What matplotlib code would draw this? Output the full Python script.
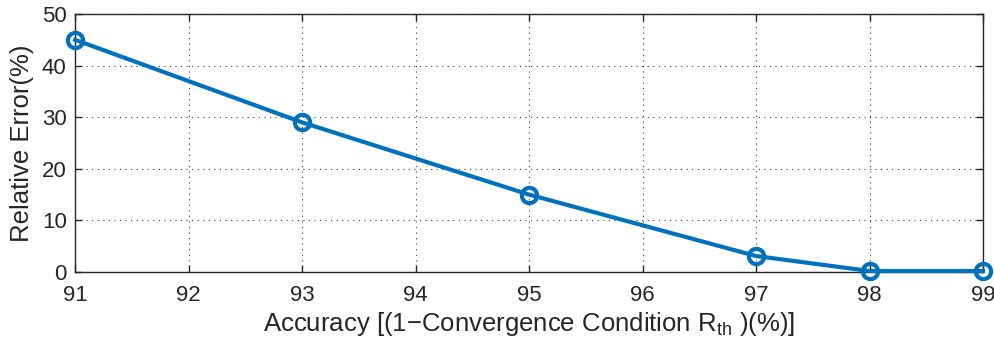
import matplotlib
matplotlib.use("Agg")
import matplotlib.pyplot as plt

plt.rcParams['font.family'] = ['Liberation Sans', 'DejaVu Sans']
plt.rcParams['mathtext.fontset'] = 'custom'
plt.rcParams['mathtext.rm'] = 'Liberation Sans'
plt.rcParams['mathtext.it'] = 'Liberation Sans'

accuracy = [91, 93, 95, 97, 98, 99]
rel_error = [45, 29, 15, 3.1, 0.2, 0.2]
xticks = [91, 92, 93, 94, 95, 96, 97, 98, 99]
yticks = [0, 10, 20, 30, 40, 50]

fig = plt.figure(figsize=(9.94, 3.41), dpi=100)
ax = fig.add_axes([0.0755, 0.2023, 0.9135, 0.7567])
ax.plot(accuracy, rel_error, color='#0072BD', lw=3, marker='o', ms=11,
        mfc='none', mec='#0072BD', mew=3, clip_on=False, zorder=5)
ax.set_xlim(91, 99)
ax.set_ylim(0, 50)
ax.set_xticks(xticks)
ax.set_yticks(yticks)
ax.tick_params(direction='in', labelsize=16, length=5, width=1, top=True, right=True, colors='#262626')
ax.tick_params(axis='x', pad=9)
ax.tick_params(axis='y', pad=6)
for lbl in ax.get_xticklabels() + ax.get_yticklabels():
    lbl.set_color('#262626')
ax.grid(True, linestyle=(0, (1, 4)), color='#404040', linewidth=0.8)
for s in ax.spines.values():
    s.set_color('#262626')
    s.set_linewidth(1)
ax.set_ylabel('Relative Error(%)', fontsize=18.5, color='#262626', labelpad=6)
ax.set_xlabel('Accuracy [(1\u2212Convergence Condition R$_{\\mathrm{th}}$ )(%)]', fontsize=18.5, color='#262626', labelpad=3)
fig.savefig('out.png', dpi=100)
